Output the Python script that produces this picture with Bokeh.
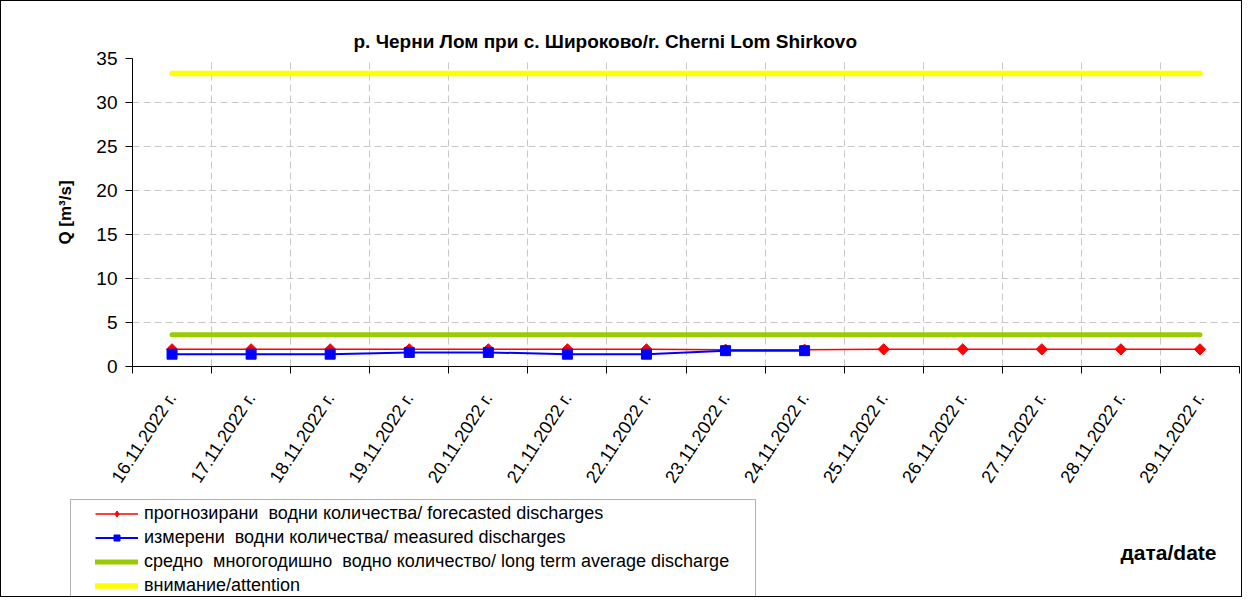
import math
import numpy as np
from bokeh.plotting import figure
from bokeh.layouts import column
from bokeh.models import FixedTicker, Range1d, Legend, LegendItem, Label, BoxAnnotation
from bokeh.embed import file_html
from bokeh.resources import INLINE

title = "р. Черни Лом при с. Широково/r. Cherni Lom Shirkovo"
dates = ["16.11.2022 г.", "17.11.2022 г.", "18.11.2022 г.", "19.11.2022 г.",
         "20.11.2022 г.", "21.11.2022 г.", "22.11.2022 г.", "23.11.2022 г.",
         "24.11.2022 г.", "25.11.2022 г.", "26.11.2022 г.", "27.11.2022 г.",
         "28.11.2022 г.", "29.11.2022 г."]
forecast = [1.95, 1.95, 1.95, 1.95, 1.95, 1.95, 1.95, 1.9, 1.9, 1.95, 1.95, 1.95, 1.95, 1.95]
measured = [1.4, 1.4, 1.4, 1.6, 1.6, 1.4, 1.4, 1.8, 1.8]
average = [3.6] * 14
attention = [33.3] * 14
y_ticks = [0, 5, 10, 15, 20, 25, 30, 35]
legend_labels = ["прогнозирани  водни количества/ forecasted discharges",
                 "измерени  водни количества/ measured discharges",
                 "средно  многогодишно  водно количество/ long term average discharge",
                 "внимание/attention"]
y_label = "Q [m³/s]"
x_label = "дата/date"

FONT = "Liberation Sans"
RED, BLUE, GREEN, YELLOW = "#ff0000", "#0000ff", "#99cc00", "#ffff00"
xs = [i + 0.5 for i in range(len(dates))]
n_cat = len(dates)

W = 1240
H1 = 493
H2 = 102

p = figure(width=W, height=H1, x_range=Range1d(0, n_cat), y_range=Range1d(0, 35),
           output_backend="svg", toolbar_location=None, frame_align=False,
           min_border_left=131, min_border_right=2, min_border_top=57, min_border_bottom=126)
p.outline_line_color = None
p.title.text = title
p.title.align = "left"
p.title.offset = 221
p.title.standoff = 14
p.title.text_font = FONT
p.title.text_font_size = "19px"
p.title.text_font_style = "bold"
p.title.text_color = "black"

# y axis
p.yaxis.ticker = FixedTicker(ticks=y_ticks)
p.yaxis.major_tick_out = 7
p.yaxis.major_tick_in = 0
p.yaxis.minor_tick_line_color = None
p.yaxis.axis_line_color = "black"
p.yaxis.major_tick_line_color = "black"
p.yaxis.major_label_text_font = FONT
p.yaxis.major_label_text_font_size = "19px"
p.yaxis.major_label_text_color = "black"
p.yaxis.major_label_standoff = 8
p.yaxis.axis_label = y_label
p.yaxis.axis_label_text_font = FONT
p.yaxis.axis_label_text_font_size = "17px"
p.yaxis.axis_label_text_font_style = "bold"
p.yaxis.axis_label_text_color = "black"
p.yaxis.axis_label_standoff = 18

# x axis: labels at category centres, tick marks at category boundaries
p.xaxis.ticker = FixedTicker(ticks=xs, minor_ticks=list(range(n_cat + 1)))
p.xaxis.major_tick_out = 0
p.xaxis.major_tick_in = 0
p.xaxis.major_tick_line_color = None
p.xaxis.minor_tick_out = 7
p.xaxis.minor_tick_in = 0
p.xaxis.minor_tick_line_color = "black"
p.xaxis.axis_line_color = "black"
p.xaxis.major_label_overrides = {x: d for x, d in zip(xs, dates)}
p.xaxis.major_label_orientation = math.radians(57)
p.xaxis.major_label_text_font = FONT
p.xaxis.major_label_text_font_size = "18px"
p.xaxis.major_label_text_color = "black"
p.xaxis.major_label_standoff = 21

# grids
p.xgrid.grid_line_color = None
p.xgrid.minor_grid_line_color = "#c8c8c8"
p.xgrid.minor_grid_line_dash = "7 4"
p.ygrid.grid_line_color = "#c8c8c8"
p.ygrid.grid_line_dash = "7 4"

# series
p.line(xs, forecast, line_color=RED, line_width=1.5)
p.scatter(xs, forecast, marker="square", angle=math.pi / 4, size=8,
          fill_color=RED, line_color=RED)
p.line(xs[:len(measured)], measured, line_color=BLUE, line_width=2)
p.scatter(xs[:len(measured)], measured, marker="square", size=10,
          fill_color=BLUE, line_color=BLUE)
p.line(xs, average, line_color=GREEN, line_width=5, line_cap="round")
p.line(xs, attention, line_color=YELLOW, line_width=5.5, line_cap="round")

# bottom strip: legend and x axis title (pixel-mapped ranges)
q = figure(width=W, height=H2, x_range=Range1d(0, W), y_range=Range1d(0, H2),
           output_backend="svg", toolbar_location=None, frame_align=False,
           x_axis_location=None, y_axis_location=None,
           min_border_left=0, min_border_right=0, min_border_top=0, min_border_bottom=0)
q.outline_line_color = None
q.xgrid.visible = False
q.ygrid.visible = False

# legend proxies (no visible data, only their styles are used by the legend)
nan = np.array([np.nan])
lf = q.line(nan, nan, line_color=RED, line_width=1.5)
mf = q.scatter(nan, nan, marker="diamond", size=10, fill_color=RED, line_color=RED)
lm = q.line(nan, nan, line_color=BLUE, line_width=2)
mm = q.scatter(nan, nan, marker="square", size=10, fill_color=BLUE, line_color=BLUE)
la = q.line(nan, nan, line_color=GREEN, line_width=5, line_cap="round")
lt = q.line(nan, nan, line_color=YELLOW, line_width=5.5, line_cap="round")

q.add_layout(BoxAnnotation(left=69, right=754, top=97, bottom=-20,
                           fill_color=None, line_color="black", line_width=1))

legend = Legend(items=[
    LegendItem(label=legend_labels[0], renderers=[lf, mf]),
    LegendItem(label=legend_labels[1], renderers=[lm, mm]),
    LegendItem(label=legend_labels[2], renderers=[la]),
    LegendItem(label=legend_labels[3], renderers=[lt]),
], location=(94, 0), orientation="vertical",
    border_line_color=None, background_fill_alpha=0, padding=6, spacing=3,
    label_height=15, glyph_height=15, glyph_width=43, label_standoff=6, margin=0,
    label_text_font=FONT, label_text_font_size="18px", label_text_color="black")
q.add_layout(legend, "center")

q.add_layout(Label(x=1167, y=44, text=x_label, text_align="center", text_baseline="middle",
                   text_font=FONT, text_font_size="21px", text_font_style="bold",
                   text_color="black"))

layout = column(p, q, spacing=0, styles={"border": "1px solid #000000"})
open("out.html", "w").write(file_html(layout, INLINE))
